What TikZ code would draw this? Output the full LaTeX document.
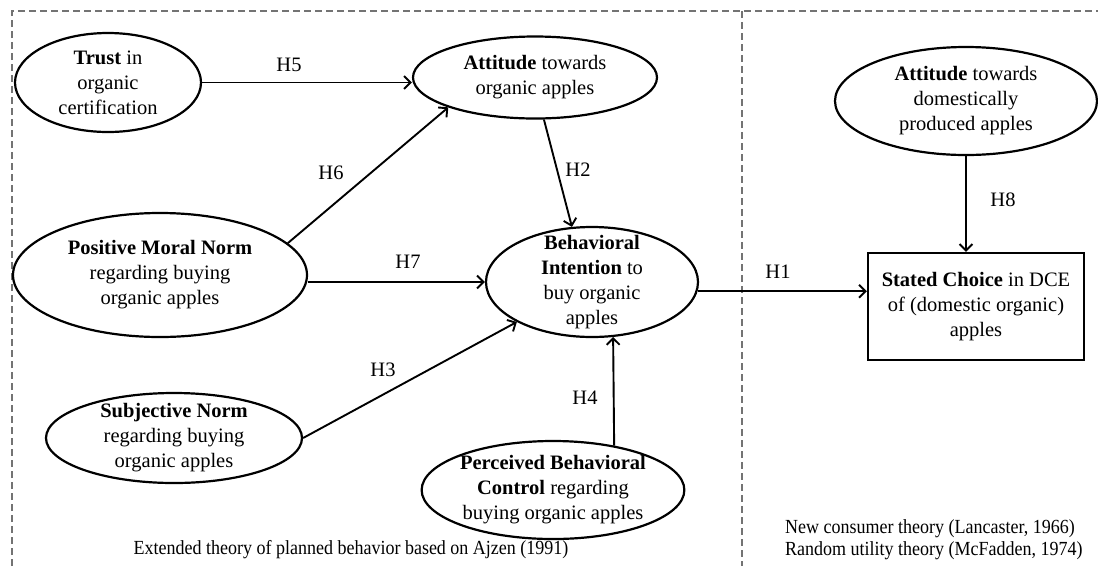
\documentclass[tikz,border=0pt]{standalone}
\usepackage{fontspec}
\setmainfont{Liberation Serif}
\newfontfamily\narrowfont{Liberation Serif}[FakeStretch=0.9]
\usetikzlibrary{shapes.geometric,arrows.meta}
\begin{document}
\begin{tikzpicture}[x=1pt,y=-1pt,
  ell/.style={ellipse,draw,line width=2.2pt,inner xsep=0pt,inner ysep=-20pt,align=center,
    font=\fontsize{20.5}{25}\selectfont},
  boxnode/.style={rectangle,draw,line width=2.3pt,inner sep=0pt,align=center,
    font=\fontsize{20.5}{25}\selectfont},
  arr/.style={line width=1.9pt,-{Straight Barb[length=6.5pt,width=13pt]}},
  hlab/.style={font=\fontsize{20.5}{25}\selectfont,inner sep=0pt},
  foot/.style={font=\narrowfont\fontsize{20}{22}\selectfont,inner sep=0pt},
  frame/.style={draw=black!55,line width=1.3pt,dash pattern=on 7pt off 4pt}
]
\useasboundingbox (0,0) rectangle (1098,566);
% dashed frame
\draw[frame] (12,566) -- (12,11) -- (1098,11);
\draw[frame] (742,11) -- (742,566);

% nodes
\node[ell,minimum width=186pt,minimum height=99pt] (trust) at (108,82.5)
  {\textbf{Trust} in\\organic\\certification};
\node[ell,minimum width=244pt,minimum height=82pt] (att) at (535,77.5)
  {\textbf{Attitude} towards\\organic apples};
\node[ell,minimum width=294pt,minimum height=124pt] (pmn) at (160,275)
  {\textbf{Positive Moral Norm}\\regarding buying\\organic apples};
\node[ell,minimum width=212pt,minimum height=110pt] (bi) at (592,282)
  {\textbf{Behavioral}\\\textbf{Intention} to\\buy organic\\apples};
\node[ell,minimum width=256pt,minimum height=90pt] (sn) at (174,438)
  {\textbf{Subjective Norm}\\regarding buying\\organic apples};
\node[ell,minimum width=260pt,minimum height=98pt] (pbc) at (553,490)
  {\textbf{Perceived Behavioral}\\\textbf{Control} regarding\\buying organic apples};
\node[ell,minimum width=262pt,minimum height=108pt] (att2) at (966,101)
  {\textbf{Attitude} towards\\domestically\\produced apples};
\node[boxnode,minimum width=216pt,minimum height=107pt] (sc) at (976,306.5)
  {\textbf{Stated Choice} in DCE\\of (domestic organic)\\apples};

% connectors
\draw[arr] (trust.east) -- (trust.east -| att.west);
\draw[arr] (pmn.14) -- (att.-161);
\draw[arr] (bi.west -| pmn.east) -- (bi.west);
\draw[arr] (att.-78) -- (bi.110);
\draw[arr] (sn.east) -- (bi.-152.5);
\draw[arr] (pbc.36.5) -- (bi.-69.7);
\draw[arr] (bi.-5) -- (bi.-5 -| sc.west);
\draw[arr] (att2.south) -- (att2.south |- sc.north);

% labels
\node[hlab] (h5) at (289,65) {H5};
\node[hlab] (h6) at (331,173) {H6};
\node[hlab] (h7) at (408,262) {H7};
\node[hlab] (h2) at (578,170) {H2};
\node[hlab] (h3) at (383,370) {H3};
\node[hlab] (h4) at (585,398) {H4};
\node[hlab] (h1) at (778,272) {H1};
\node[hlab] (h8) at (1003,200) {H8};

% footnotes
\node[foot] (tpb) at (351,550) {Extended theory of planned behavior based on Ajzen (1991)};
\node[foot,anchor=west] (nct) at (785,529) {New consumer theory (Lancaster, 1966)};
\node[foot,anchor=west] (rut) at (785,551) {Random utility theory (McFadden, 1974)};
\end{tikzpicture}
\end{document}
